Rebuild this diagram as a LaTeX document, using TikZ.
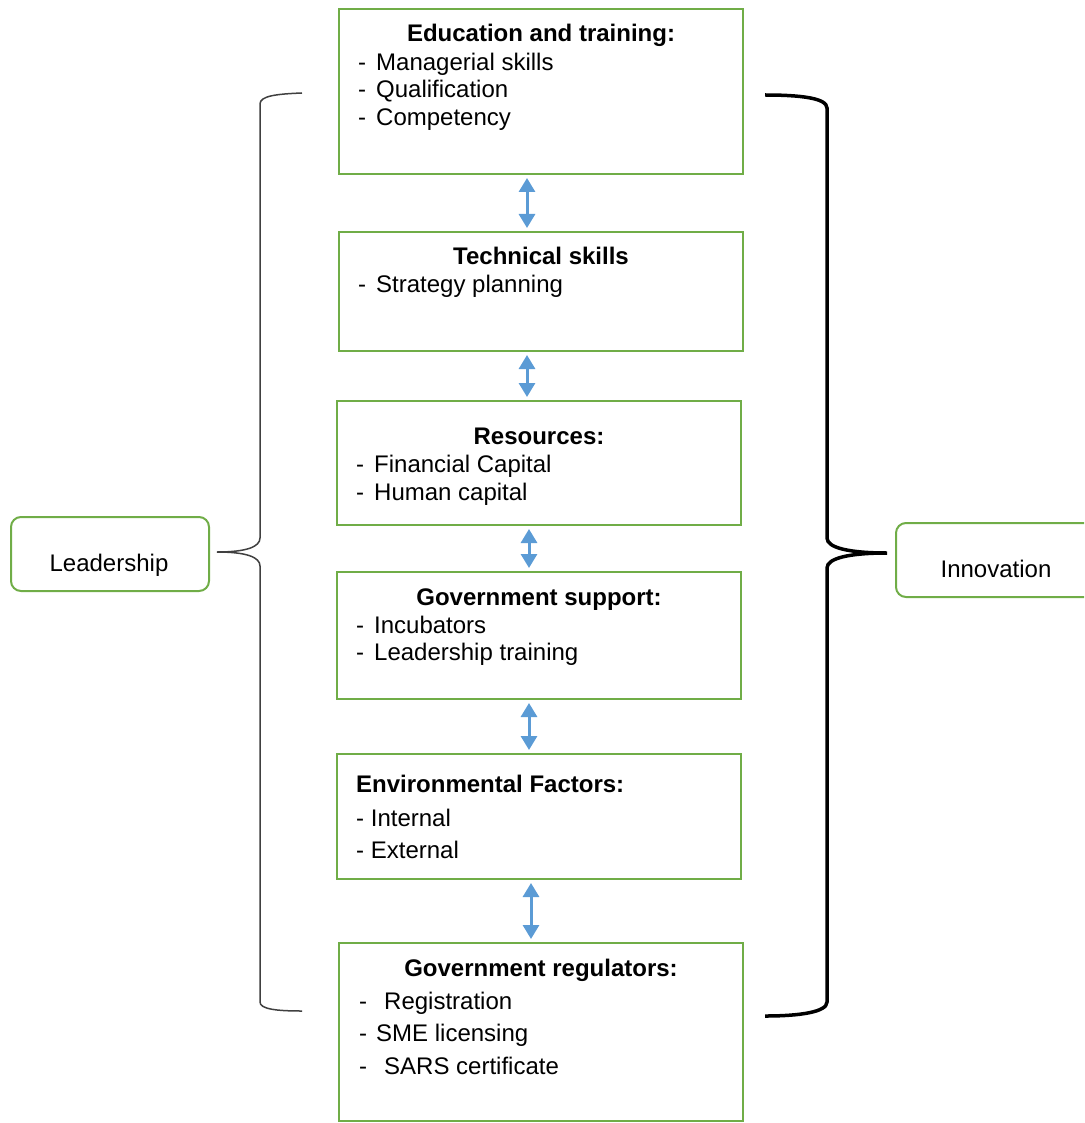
\documentclass[tikz,border=0pt]{standalone}
\usepackage{fontspec}
\setmainfont{Liberation Sans}
\usetikzlibrary{arrows.meta, positioning}
\definecolor{boxgreen}{HTML}{70AD47}
\definecolor{arrowblue}{HTML}{5B9BD5}
\tikzstyle{block} = [rectangle, draw=boxgreen, line width=2pt, inner sep=0pt, minimum width=404pt]
\tikzstyle{side} = [rectangle, rounded corners=10pt, draw=boxgreen, line width=2pt, minimum width=198pt, minimum height=74pt]
\tikzstyle{title} = [font=\fontsize{24}{28}\selectfont\bfseries, anchor=base, inner sep=0pt]
\tikzstyle{items} = [font=\fontsize{24}{27.5}\selectfont, align=left, anchor=base west, inner sep=0pt]
\tikzstyle{label} = [font=\fontsize{24}{28}\selectfont, inner sep=0pt]
\tikzstyle{arrow} = [line width=3pt, draw=arrowblue, {Triangle[width=16pt,length=14pt]}-{Triangle[width=16pt,length=14pt]}, shorten <=3pt, shorten >=3pt]
\newcommand{\dashitem}[2][18pt]{\makebox[#1][l]{-}#2}

\begin{document}
\begin{tikzpicture}[x=1pt, y=-1pt]
\useasboundingbox (0,0) rectangle (1084,1123);
\clip (0,0) rectangle (1084,1123);

% boxes in the middle column
\node (edu) [block, minimum height=165pt] at (541,91.5) {};
\node (tech) [block, minimum height=119pt] at (541,291.5) {};
\node (res) [block, minimum height=124pt] at (539,463) {};
\node (gov) [block, minimum height=127pt] at (539,635.5) {};
\node (env) [block, minimum height=125pt] at (539,816.5) {};
\node (reg) [block, minimum height=178pt] at (541,1032) {};

% texts (lists are placed by the base line of their last line)
\node (edutitle) [title] at ([yshift=-33.5pt]edu.north) {Education and training:};
\node (eduitems) [items] at ([xshift=20pt, yshift=-117.2pt]edu.north west)
  {\dashitem{Managerial skills}\\ \dashitem{Qualification}\\ \dashitem{Competency}};
\node (techtitle) [title] at ([yshift=-33.6pt]tech.north) {Technical skills};
\node (techitems) [items] at ([xshift=20pt, yshift=-61.4pt]tech.north west)
  {\dashitem{Strategy planning}};
\node (restitle) [title] at ([yshift=-44.4pt]res.north) {Resources:};
\node (resitems) [items, font=\fontsize{24}{28}\selectfont] at ([xshift=20pt, yshift=-100.2pt]res.north west)
  {\dashitem{Financial Capital}\\ \dashitem{Human capital}};
\node (govtitle) [title] at ([yshift=-34.4pt]gov.north) {Government support:};
\node (govitems) [items, font=\fontsize{24}{27}\selectfont] at ([xshift=20pt, yshift=-89.4pt]gov.north west)
  {\dashitem{Incubators}\\ \dashitem{Leadership training}};
\node (envtitle) [title, anchor=base west] at ([xshift=20pt, yshift=-39.4pt]env.north west) {Environmental Factors:};
\node (envitems) [items, font=\fontsize{24}{32}\selectfont] at ([xshift=20pt, yshift=-105.4pt]env.north west)
  {- Internal\\ - External};
\node (regtitle) [title] at ([yshift=-34.4pt]reg.north) {Government regulators:};
\node (regitems) [items, font=\fontsize{24}{32.5}\selectfont] at ([xshift=21pt, yshift=-132.4pt]reg.north west)
  {\dashitem[25pt]{Registration}\\ \dashitem[17pt]{SME licensing}\\ \dashitem[25pt]{SARS certificate}};

% side boxes
\node (lead) [side] at (110,554) {};
\node (leadtxt) [label] at ([xshift=-1pt, yshift=-11pt]lead.center) {Leadership};
\node (inno) [side, minimum width=200pt] at (996,560) {};
\node (innotxt) [label] at ([yshift=-9pt]inno.center) {Innovation};

% arrows
\draw [arrow] ([xshift=-14pt]edu.south) -- ([xshift=-14pt]edu.south |- tech.north);
\draw [arrow] ([xshift=-14pt]tech.south) -- ([xshift=-14pt]tech.south |- res.north);
\draw [arrow] ([xshift=-10pt]res.south) -- ([xshift=-10pt]res.south |- gov.north);
\draw [arrow] ([xshift=-10pt]gov.south) -- ([xshift=-10pt]gov.south |- env.north);
\draw [arrow] ([xshift=-8pt]env.south) -- ([xshift=-8pt]env.south |- reg.north);

% braces
\coordinate (ltip) at (217,552);
\coordinate (rtip) at (887,553);
\draw [line width=1.5pt, draw=black!75] (302,93) .. controls (276,94) and (260,96) .. (260,104)
  -- (260,538) .. controls (260,547) and (246,552) .. (ltip)
  .. controls (246,552) and (260,557) .. (260,566)
  -- (260,1002) .. controls (260,1009) and (276,1011) .. (302,1011);
\draw [line width=3.5pt] (765,95) .. controls (800,95) and (827,98) .. (827,108)
  -- (827,538) .. controls (827,548) and (850,553) .. (rtip)
  .. controls (850,553) and (827,558) .. (827,568)
  -- (827,1002) .. controls (827,1012) and (800,1016) .. (765,1016);
\end{tikzpicture}
\end{document}
